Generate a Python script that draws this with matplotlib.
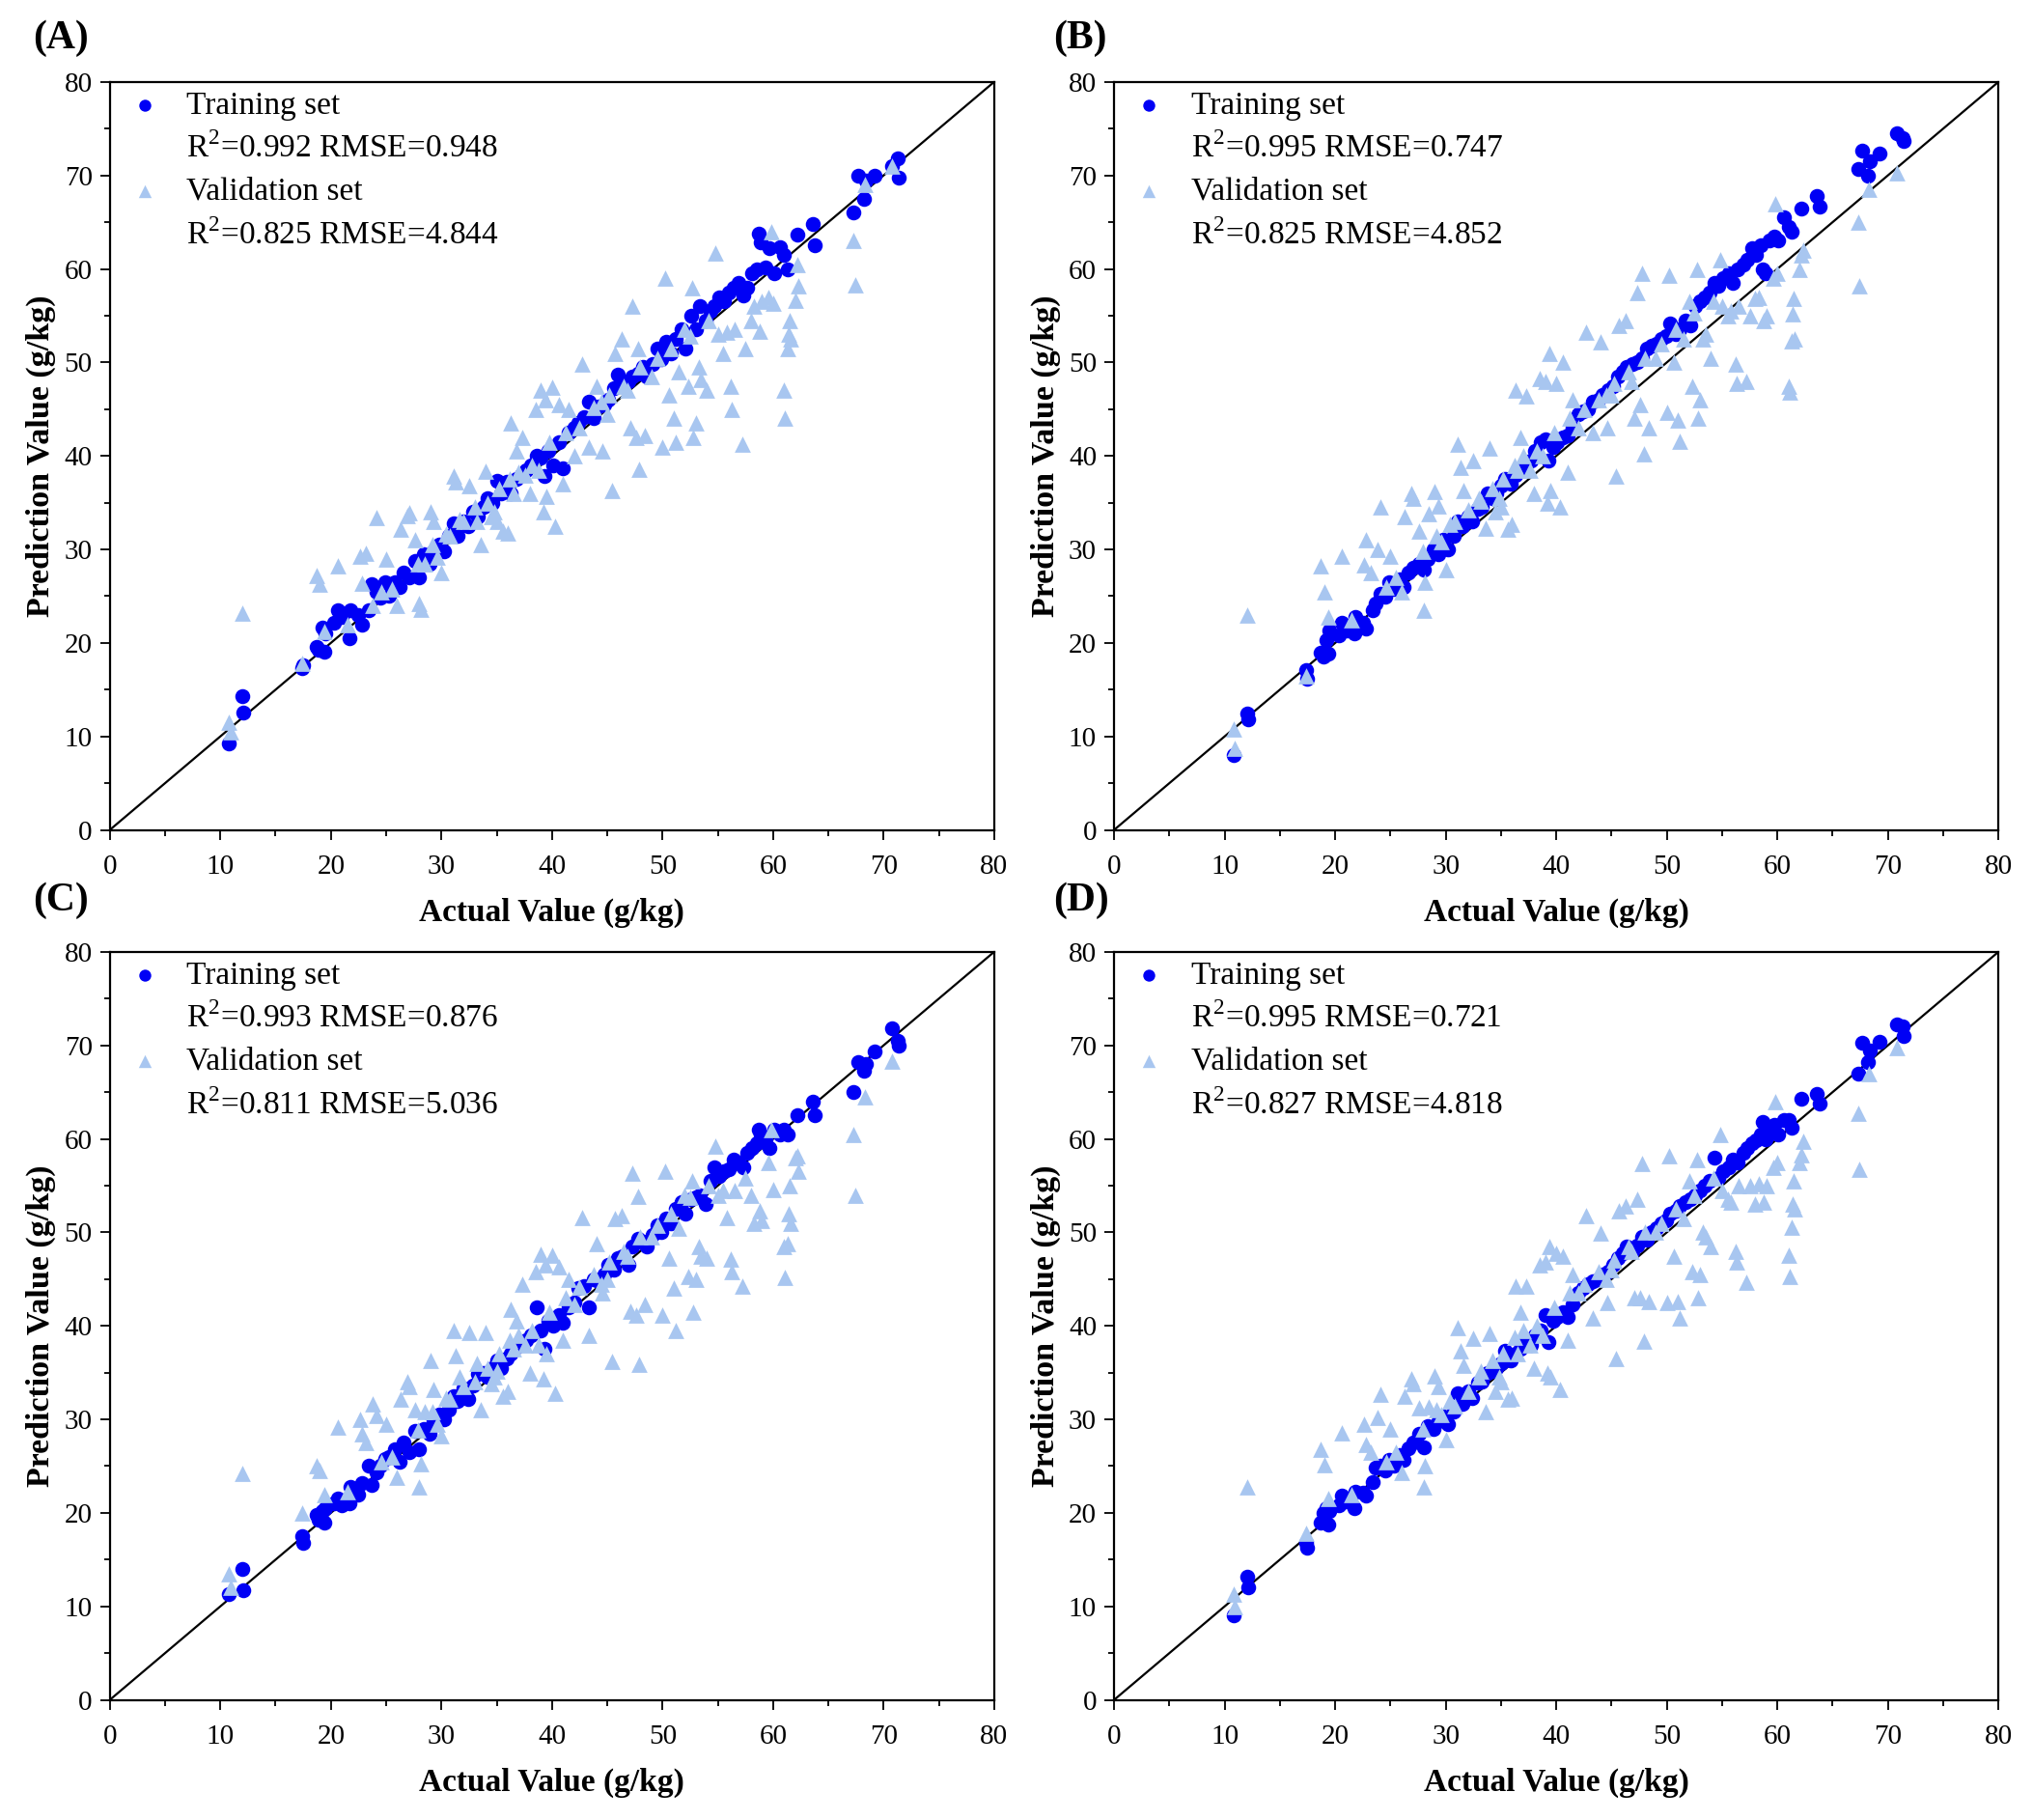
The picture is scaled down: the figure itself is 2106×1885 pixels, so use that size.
import matplotlib
matplotlib.use('Agg')
import matplotlib.pyplot as plt
from matplotlib.lines import Line2D
from matplotlib.ticker import MultipleLocator

plt.rcParams['font.family'] = ['Liberation Serif', 'DejaVu Serif']
plt.rcParams['mathtext.fontset'] = 'custom'
plt.rcParams['mathtext.rm'] = 'Liberation Serif'

# measured (actual) values, same samples in every panel
train_actual = [10.8, 12.0, 12.1, 17.4, 17.5, 18.7, 18.9, 19.2, 19.4, 19.5,
                20.3, 20.6, 21.0, 21.7, 21.8, 22.5, 22.8, 23.4, 23.7, 24.1,
                24.5, 24.9, 25.3, 25.8, 26.2, 26.6, 27.1, 27.6, 28.0, 28.4,
                28.9, 29.3, 29.8, 30.2, 30.7, 31.1, 31.5, 32.0, 32.4, 32.9,
                33.3, 33.8, 34.2, 34.6, 35.0, 35.4, 35.9, 36.3, 36.8, 37.2,
                37.7, 38.1, 38.6, 39.0, 39.3, 39.7, 40.1, 40.6, 41.0, 41.5,
                42.0, 42.4, 42.9, 43.3, 43.8, 44.2, 44.7, 45.1, 45.6, 46.0,
                46.4, 46.9, 47.3, 47.8, 48.2, 48.6, 49.1, 49.5, 49.9, 50.3,
                50.8, 51.2, 51.7, 52.1, 52.6, 53.0, 53.4, 53.9, 54.3, 54.7,
                55.1, 55.6, 56.0, 56.4, 56.9, 57.3, 57.7, 58.1, 58.5, 58.7,
                58.9, 59.3, 59.7, 60.1, 60.6, 61.0, 61.3, 62.2, 63.6, 63.8,
                67.3, 67.7, 68.2, 68.4, 69.2, 70.8, 71.3, 71.4]

train_pred_a = [9.2, 14.3, 12.6, 17.3, 17.6, 19.6, 19.3, 21.6, 19.1, 21.0,
                22.2, 23.5, 22.8, 20.5, 23.5, 23.0, 22.0, 23.5, 26.3, 25.5,
                24.8, 26.5, 25.0, 26.5, 26.0, 27.5, 27.0, 28.8, 27.0, 29.5,
                28.5, 29.8, 30.5, 29.8, 31.5, 32.8, 31.5, 33.0, 32.5, 34.0,
                33.5, 34.5, 35.5, 35.0, 37.3, 36.0, 37.2, 36.0, 37.5, 38.0,
                38.5, 39.0, 40.0, 39.8, 37.8, 40.5, 39.0, 41.5, 38.7, 42.5,
                43.0, 43.5, 44.2, 45.8, 44.0, 45.3, 45.5, 46.0, 47.2, 48.7,
                47.5, 48.0, 48.5, 48.8, 49.5, 48.5, 49.8, 51.5, 50.3, 52.2,
                51.0, 52.5, 53.5, 51.5, 55.0, 53.5, 56.0, 54.5, 55.5, 56.0,
                57.0, 56.5, 57.5, 58.0, 58.5, 57.2, 58.0, 59.5, 60.0, 63.8,
                62.8, 60.2, 62.2, 59.5, 62.3, 61.5, 60.0, 63.7, 64.8, 62.5,
                66.0, 70.0, 67.5, 69.5, 70.0, 71.0, 71.8, 69.8]

train_pred_b = [8.0, 12.4, 11.8, 17.1, 16.2, 19.0, 18.5, 20.3, 18.8, 21.3,
                20.8, 22.2, 21.3, 21.0, 22.8, 22.2, 21.5, 23.5, 24.2, 25.3,
                24.9, 26.5, 25.8, 26.8, 26.0, 27.5, 28.0, 28.5, 27.8, 29.0,
                30.0, 29.5, 31.0, 30.0, 31.5, 33.0, 32.5, 33.5, 33.0, 34.3,
                34.5, 36.0, 35.5, 36.0, 36.8, 37.5, 37.0, 38.0, 38.5, 39.0,
                39.5, 40.5, 41.5, 41.8, 39.5, 41.0, 41.5, 42.0, 42.2, 43.0,
                44.5, 44.8, 45.0, 45.8, 46.0, 46.5, 47.0, 47.5, 48.5, 49.0,
                49.5, 49.8, 50.0, 50.5, 51.5, 51.8, 52.0, 52.5, 52.8, 54.2,
                53.0, 53.5, 54.5, 54.0, 56.0, 56.5, 57.0, 57.5, 58.5, 58.2,
                59.0, 59.5, 58.5, 60.0, 60.5, 61.0, 62.2, 61.5, 62.5, 60.0,
                59.5, 63.0, 63.5, 63.0, 65.5, 64.5, 64.0, 66.5, 67.8, 66.7,
                70.7, 72.7, 70.0, 71.5, 72.3, 74.5, 74.0, 73.7]

train_pred_c = [11.3, 14.0, 11.7, 17.5, 16.8, 19.8, 19.3, 20.2, 19.0, 20.5,
                21.0, 21.5, 20.8, 21.0, 22.8, 22.0, 23.2, 25.0, 23.0, 24.3,
                25.0, 25.8, 26.0, 26.8, 25.5, 27.5, 26.5, 28.8, 26.8, 29.0,
                28.5, 29.8, 30.5, 30.0, 31.0, 32.5, 32.0, 33.3, 32.2, 33.6,
                34.9, 35.0, 34.5, 35.5, 36.3, 35.5, 36.5, 37.0, 37.8, 38.2,
                38.5, 39.0, 42.0, 39.5, 37.5, 40.5, 40.0, 41.2, 40.3, 42.0,
                42.5, 44.0, 44.3, 42.0, 45.0, 44.8, 45.5, 46.5, 46.0, 47.2,
                47.5, 46.5, 48.5, 49.3, 49.0, 48.5, 49.7, 50.8, 50.0, 51.5,
                51.0, 52.5, 53.2, 52.0, 53.5, 53.8, 54.0, 53.0, 55.5, 57.0,
                56.0, 56.5, 56.8, 57.8, 57.5, 57.0, 58.5, 59.0, 59.5, 61.0,
                60.5, 60.0, 59.0, 61.0, 60.5, 61.0, 60.5, 62.5, 64.0, 62.5,
                65.0, 68.2, 67.3, 68.0, 69.3, 71.8, 70.5, 70.0]

train_pred_d = [9.0, 13.2, 12.0, 16.8, 16.3, 19.0, 20.0, 20.5, 18.7, 20.2,
                20.8, 21.8, 21.2, 20.5, 22.3, 22.2, 21.8, 23.3, 24.8, 25.0,
                24.5, 25.7, 25.0, 26.2, 25.7, 26.9, 27.5, 28.5, 27.0, 29.3,
                29.0, 29.8, 30.3, 29.5, 30.8, 32.8, 31.7, 33.0, 32.3, 33.9,
                34.0, 35.0, 35.2, 35.5, 36.0, 37.3, 36.3, 37.0, 37.5, 38.3,
                38.0, 39.0, 39.5, 41.2, 38.3, 40.5, 41.0, 41.5, 41.0, 42.3,
                43.5, 44.0, 44.5, 44.8, 45.0, 45.5, 45.8, 46.5, 47.2, 47.8,
                48.5, 48.0, 48.6, 49.5, 49.2, 50.0, 50.5, 51.0, 51.3, 52.0,
                52.3, 52.8, 53.2, 53.5, 54.0, 54.5, 55.0, 55.5, 58.0, 55.8,
                56.5, 57.0, 57.8, 57.5, 58.5, 59.0, 59.5, 59.8, 60.5, 61.8,
                60.0, 60.8, 61.5, 60.5, 62.0, 62.0, 61.2, 64.3, 64.8, 63.8,
                67.0, 70.3, 68.2, 69.5, 70.4, 72.2, 72.0, 71.0]

val_actual = [10.8, 10.9, 12.0, 17.4, 18.7, 19.0, 19.4, 20.6, 22.6, 22.8,
              23.2, 23.8, 24.1, 25.0, 26.0, 26.3, 26.9, 27.1, 27.6, 28.0,
              28.1, 28.5, 29.0, 29.3, 29.6, 30.0, 30.4, 31.1, 31.3, 31.6,
              32.5, 33.2, 33.6, 34.0, 34.5, 35.0, 35.6, 36.0, 36.3, 36.8,
              37.3, 37.6, 38.0, 38.5, 39.0, 39.2, 39.5, 39.4, 40.0, 40.3,
              40.6, 41.0, 41.5, 42.0, 42.7, 43.3, 44.0, 44.6, 45.0, 45.4,
              45.7, 46.3, 46.8, 47.1, 47.3, 47.6, 47.8, 47.9, 48.4, 49.0,
              50.0, 50.2, 50.6, 51.0, 51.2, 51.5, 52.0, 52.3, 52.7, 52.8,
              53.0, 53.3, 53.5, 54.0, 54.8, 55.5, 55.8, 56.2, 56.3, 56.5,
              57.2, 57.5, 58.0, 58.3, 58.8, 59.0, 59.6, 59.8, 60.0, 61.0,
              61.1, 61.3, 61.4, 61.5, 61.6, 62.0, 62.3, 62.2, 67.3, 67.4,
              68.3, 70.8, 25.5, 27.9, 29.2, 30.8, 32.0, 33.0, 34.2, 35.2,
              36.2, 37.0, 38.2, 39.8, 41.2, 42.5, 43.8, 45.2, 46.5, 48.0,
              49.5, 50.8, 52.5, 54.2, 55.0, 21.5, 24.6, 34.8, 36.5, 38.8,
              44.5]

val_pred_a = [11.5, 10.5, 23.2, 17.8, 27.2, 26.3, 21.2, 28.2, 29.3, 26.4,
              29.6, 24.0, 33.4, 29.0, 24.0, 32.2, 33.6, 33.9, 31.0, 24.2,
              23.6, 28.5, 34.0, 33.0, 29.2, 27.5, 31.7, 37.9, 37.2, 33.2,
              36.8, 33.0, 30.5, 38.4, 33.5, 33.0, 32.0, 31.8, 43.5, 40.5,
              42.0, 38.0, 36.0, 45.0, 47.0, 34.0, 35.7, 46.0, 47.3, 32.5,
              45.5, 37.0, 45.0, 40.0, 49.8, 41.0, 47.5, 40.5, 44.5, 36.3,
              51.0, 52.5, 47.0, 43.0, 56.0, 42.0, 51.5, 38.6, 42.2, 48.5,
              41.0, 59.0, 46.5, 44.0, 41.5, 49.0, 53.5, 47.5, 58.0, 42.0,
              43.5, 49.5, 48.2, 47.0, 61.7, 51.0, 53.2, 47.5, 45.0, 53.5,
              41.3, 51.5, 54.5, 56.0, 53.3, 56.5, 57.0, 64.0, 56.3, 47.0,
              44.0, 51.5, 53.0, 54.5, 52.5, 56.6, 58.2, 60.5, 63.0, 58.3,
              69.0, 71.0, 25.8, 28.5, 30.5, 31.5, 33.0, 34.5, 35.0, 36.5,
              37.5, 38.3, 39.0, 41.5, 42.5, 43.0, 45.2, 46.5, 47.5, 49.5,
              50.5, 51.5, 52.8, 54.5, 53.0, 22.0, 25.5, 34.0, 36.0, 38.5,
              45.8]

val_pred_b = [10.8, 8.7, 23.0, 16.5, 28.2, 25.5, 22.8, 29.3, 28.3, 31.0,
              27.5, 30.0, 34.5, 29.3, 25.5, 33.5, 36.0, 35.5, 32.0, 23.5,
              26.5, 33.8, 36.2, 34.7, 30.8, 27.8, 32.7, 41.3, 38.8, 36.3,
              39.5, 35.2, 32.3, 40.8, 34.0, 34.5, 32.2, 32.7, 47.0, 42.0,
              46.4, 38.5, 36.0, 48.3, 48.0, 35.0, 36.3, 51.0, 47.8, 34.5,
              50.0, 38.3, 46.0, 43.0, 53.2, 42.5, 52.2, 43.0, 46.5, 37.8,
              54.0, 54.5, 48.0, 44.0, 57.5, 45.5, 59.5, 40.2, 43.0, 50.5,
              44.7, 59.3, 50.0, 43.8, 41.6, 52.5, 56.5, 47.5, 60.0, 44.0,
              46.0, 52.5, 53.0, 50.5, 61.0, 55.0, 55.5, 49.8, 47.8, 56.0,
              48.0, 55.0, 56.8, 57.0, 54.5, 55.0, 59.0, 67.0, 59.5, 47.5,
              46.8, 52.3, 55.2, 56.8, 52.5, 60.0, 62.0, 61.5, 65.0, 58.2,
              68.5, 70.3, 27.0, 29.8, 31.5, 33.0, 34.2, 35.5, 36.5, 37.5,
              39.0, 40.0, 40.5, 42.5, 44.0, 45.0, 46.0, 47.8, 49.0, 50.5,
              52.0, 53.5, 55.3, 56.5, 56.0, 22.5, 26.0, 35.5, 38.5, 40.0,
              46.5]

val_pred_c = [13.5, 12.0, 24.2, 20.0, 25.0, 24.5, 22.0, 29.2, 30.0, 28.5,
              27.5, 31.7, 30.4, 29.5, 23.8, 32.2, 34.0, 33.5, 31.0, 22.8,
              25.3, 30.8, 36.3, 33.2, 29.5, 28.3, 32.3, 39.5, 36.8, 34.5,
              39.3, 36.0, 31.0, 39.3, 33.8, 35.2, 32.5, 33.0, 41.8, 40.5,
              44.5, 38.0, 35.0, 45.8, 47.7, 34.3, 37.0, 46.5, 47.6, 32.8,
              46.3, 38.5, 45.0, 42.3, 51.6, 39.0, 48.8, 43.5, 45.0, 36.2,
              51.5, 51.8, 47.5, 41.6, 56.3, 41.2, 53.9, 35.9, 42.3, 49.5,
              41.2, 56.5, 47.2, 44.0, 39.5, 50.5, 54.0, 45.3, 55.5, 41.5,
              45.0, 48.5, 47.5, 47.3, 59.2, 54.5, 51.6, 47.1, 45.8, 54.5,
              44.3, 55.8, 54.0, 51.0, 52.3, 51.3, 57.5, 61.0, 54.6, 48.5,
              45.2, 48.8, 52.0, 55.0, 51.0, 58.0, 56.5, 58.2, 60.5, 54.0,
              64.5, 68.3, 26.0, 28.9, 30.8, 32.2, 33.5, 34.0, 35.5, 37.0,
              38.5, 39.0, 39.5, 41.5, 43.0, 44.2, 45.5, 46.8, 48.0, 49.5,
              50.8, 52.0, 53.8, 55.0, 54.0, 22.3, 25.5, 34.5, 37.5, 38.0,
              44.5]

val_pred_d = [11.3, 10.0, 22.8, 17.8, 26.8, 25.2, 21.5, 28.6, 29.5, 27.3,
              26.5, 30.2, 32.7, 29.0, 24.3, 32.5, 34.3, 33.8, 31.2, 22.8,
              25.0, 31.3, 34.7, 33.5, 30.5, 27.8, 32.0, 39.8, 37.3, 35.8,
              38.7, 35.2, 30.8, 39.2, 33.0, 34.0, 32.2, 32.3, 44.3, 41.5,
              44.3, 38.0, 35.5, 46.5, 46.8, 35.0, 34.5, 48.5, 47.8, 33.2,
              47.5, 38.5, 45.5, 43.5, 51.8, 40.8, 49.9, 42.5, 46.0, 36.5,
              52.3, 52.8, 48.0, 43.0, 53.5, 43.0, 57.4, 38.4, 42.6, 50.0,
              42.5, 58.2, 47.5, 42.6, 40.8, 51.5, 55.5, 45.8, 57.8, 43.0,
              45.5, 50.0, 49.5, 48.5, 60.5, 53.5, 53.2, 48.0, 46.8, 55.0,
              44.7, 55.0, 53.0, 55.2, 53.2, 55.0, 57.0, 64.0, 57.5, 47.6,
              45.3, 50.6, 53.0, 55.5, 52.5, 57.5, 59.7, 58.3, 62.7, 56.7,
              67.0, 69.8, 26.5, 29.0, 31.0, 31.5, 33.0, 34.5, 36.3, 37.0,
              38.8, 39.5, 40.0, 42.0, 43.5, 44.5, 45.8, 47.0, 48.5, 50.0,
              51.0, 52.5, 54.0, 55.8, 54.5, 22.0, 25.5, 34.5, 37.0, 39.0,
              45.0]

panel_names = ['(A)', '(B)', '(C)', '(D)']
train_stats = ['0.992 RMSE=0.948', '0.995 RMSE=0.747', '0.993 RMSE=0.876', '0.995 RMSE=0.721']
val_stats = ['0.825 RMSE=4.844', '0.825 RMSE=4.852', '0.811 RMSE=5.036', '0.827 RMSE=4.818']
train_preds = [train_pred_a, train_pred_b, train_pred_c, train_pred_d]
val_preds = [val_pred_a, val_pred_b, val_pred_c, val_pred_d]

train_color = '#0000F5'
val_color = '#A8C6F0'

fig = plt.figure(figsize=(21.06, 18.85), dpi=100)
positions = [[0.054, 0.544, 0.435, 0.411],
             [0.548, 0.544, 0.435, 0.411],
             [0.054, 0.066, 0.435, 0.411],
             [0.548, 0.066, 0.435, 0.411]]
label_xy = [(0.016, 0.979), (0.518, 0.979), (0.016, 0.505), (0.518, 0.505)]

for i in range(4):
    ax = fig.add_axes(positions[i])

    ax.plot([0, 80], [0, 80], color='black', linewidth=1.6, zorder=1)
    tr = ax.scatter(train_actual, train_preds[i], s=125, marker='o',
                    color=train_color, linewidths=0, zorder=2)
    va = ax.scatter(val_actual, val_preds[i], s=145, marker='^',
                    color=val_color, linewidths=0, zorder=3)

    ax.set_xlim(0, 80)
    ax.set_ylim(0, 80)
    ax.xaxis.set_major_locator(MultipleLocator(10))
    ax.yaxis.set_major_locator(MultipleLocator(10))
    ax.xaxis.set_minor_locator(MultipleLocator(5))
    ax.yaxis.set_minor_locator(MultipleLocator(5))
    ax.tick_params(which='major', direction='out', length=7, width=1.3,
                   labelsize=21)
    ax.tick_params(which='minor', direction='out', length=4, width=1.3)
    ax.tick_params(axis='x', which='major', pad=11)
    ax.tick_params(axis='y', which='major', pad=6)
    for sp in ax.spines.values():
        sp.set_linewidth(1.6)

    ax.set_xlabel('Actual Value (g/kg)', fontsize=24, fontweight='bold', labelpad=14)
    ax.set_ylabel('Prediction Value (g/kg)', fontsize=24.5, fontweight='bold', labelpad=6)

    blank = Line2D([], [], linestyle='none')
    ax.legend([tr, blank, va, blank],
              ['Training set', 'R$^2$=' + train_stats[i],
               'Validation set', 'R$^2$=' + val_stats[i]],
              loc='upper left', bbox_to_anchor=(-0.004, 1.018), frameon=False,
              fontsize=24, handletextpad=0.8, labelspacing=0.39,
              handlelength=1.0, borderaxespad=0.3, scatterpoints=1,
              markerscale=0.8)

    fig.text(label_xy[i][0], label_xy[i][1], panel_names[i], fontsize=30,
             fontweight='bold', ha='left', va='center')

fig.savefig('out.png', dpi=100)
